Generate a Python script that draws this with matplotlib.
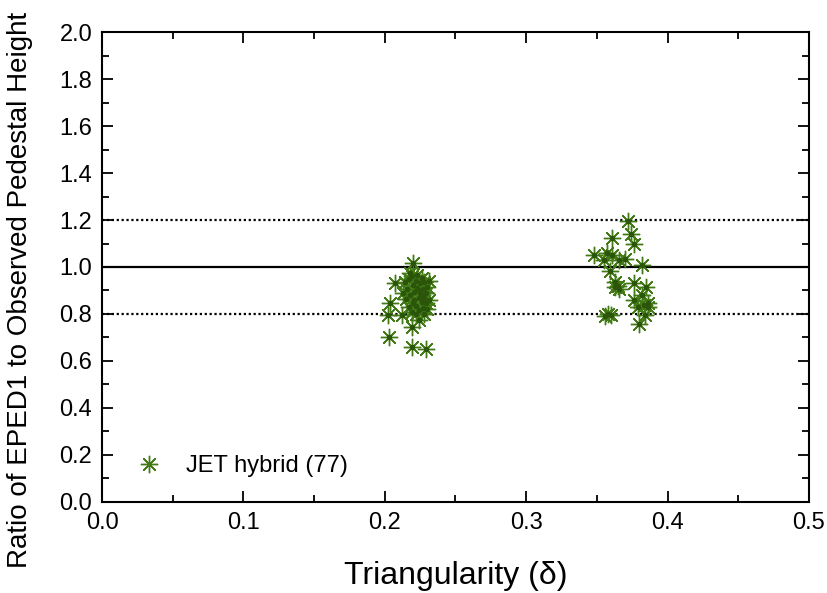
import matplotlib
matplotlib.use("Agg")
from matplotlib import pyplot as plt
from matplotlib.ticker import MultipleLocator

plt.rcParams['font.family'] = ['Liberation Sans', 'DejaVu Sans']

# JET hybrid, low triangularity group
delta_low = [0.220, 0.207, 0.204, 0.202, 0.212, 0.203, 0.219, 0.229, 0.219, 0.224,
             0.214, 0.216, 0.217, 0.218, 0.219, 0.220, 0.221, 0.221, 0.222, 0.222,
             0.223, 0.223, 0.224, 0.224, 0.225, 0.225, 0.226, 0.226, 0.227, 0.227,
             0.228, 0.228, 0.229, 0.229, 0.230, 0.230, 0.231, 0.231, 0.215, 0.217,
             0.219, 0.220, 0.222, 0.224, 0.226, 0.228, 0.213, 0.218]
ratio_low = [1.017, 0.932, 0.847, 0.796, 0.796, 0.700, 0.660, 0.651, 0.745, 0.774,
             0.935, 0.905, 0.950, 0.880, 0.962, 0.925, 0.895, 0.860, 0.940, 0.835,
             0.910, 0.965, 0.870, 0.815, 0.930, 0.890, 0.850, 0.955, 0.825, 0.905,
             0.870, 0.935, 0.845, 0.890, 0.915, 0.820, 0.860, 0.940, 0.865, 0.830,
             0.810, 0.845, 0.800, 0.900, 0.880, 0.800, 0.890, 0.975]

# JET hybrid, high triangularity group
delta_high = [0.372, 0.361, 0.374, 0.376, 0.348, 0.357, 0.361, 0.355, 0.366, 0.370,
              0.382, 0.359, 0.363, 0.363, 0.366, 0.376, 0.385, 0.382, 0.376, 0.383,
              0.386, 0.379, 0.356, 0.358, 0.360, 0.384, 0.380, 0.386, 0.365]
ratio_high = [1.196, 1.123, 1.140, 1.098, 1.052, 1.060, 1.051, 1.030, 1.030, 1.034,
              1.009, 0.983, 0.936, 0.915, 0.906, 0.932, 0.915, 0.881, 0.860, 0.838,
              0.830, 0.830, 0.790, 0.800, 0.795, 0.796, 0.757, 0.845, 0.920]

fig = plt.figure(figsize=(8.28, 5.93), dpi=100)
ax = fig.add_axes([0.1232, 0.1535, 0.8538, 0.7925])

ax.axhline(1.0, color='black', lw=1.6, zorder=1)
ax.axhline(0.8, color='black', lw=1.6, ls=(0, (1, 1.2)), zorder=1)
ax.axhline(1.2, color='black', lw=1.6, ls=(0, (1, 1.2)), zorder=1)

star = (8, 2, 0)
delta = delta_low + delta_high
ratio = ratio_low + ratio_high
ax.plot(delta, ratio, ls='none', marker=star, markersize=12.5,
        markeredgewidth=1.0, color='#427a16', label='JET hybrid (77)', zorder=3)
ax.plot(delta, ratio, ls='none', marker='o', markersize=3, color='#2b560a',
        zorder=4)

ax.set_xlim(0.0, 0.5)
ax.set_ylim(0.0, 2.0)
ax.xaxis.set_major_locator(MultipleLocator(0.1))
ax.xaxis.set_minor_locator(MultipleLocator(0.05))
ax.yaxis.set_major_locator(MultipleLocator(0.2))
ax.yaxis.set_minor_locator(MultipleLocator(0.1))
ax.xaxis.set_major_formatter(lambda v, p: f"{v:.1f}")
ax.yaxis.set_major_formatter(lambda v, p: f"{v:.1f}")
ax.tick_params(which='both', direction='in', top=True, right=True, width=1.3,
               labelsize=17, pad=7)
ax.tick_params(which='major', length=8)
ax.tick_params(which='minor', length=5)
for s in ax.spines.values():
    s.set_linewidth(1.5)

ax.set_xlabel('Triangularity (δ)', fontsize=23)
ax.xaxis.set_label_coords(0.5, -0.175)
ax.xaxis.label.set_verticalalignment('baseline')
ax.set_ylabel('Ratio of EPED1 to Observed Pedestal Height', fontsize=20)
ax.yaxis.set_label_coords(-0.116, 0.451)
ax.yaxis.label.set_verticalalignment('center')

ax.legend(loc='center left', bbox_to_anchor=(0.046, 0.077), frameon=False,
          fontsize=17, handlelength=1.2, handletextpad=1.0, borderpad=0,
          borderaxespad=0)

plt.savefig("out.png", dpi=100)
